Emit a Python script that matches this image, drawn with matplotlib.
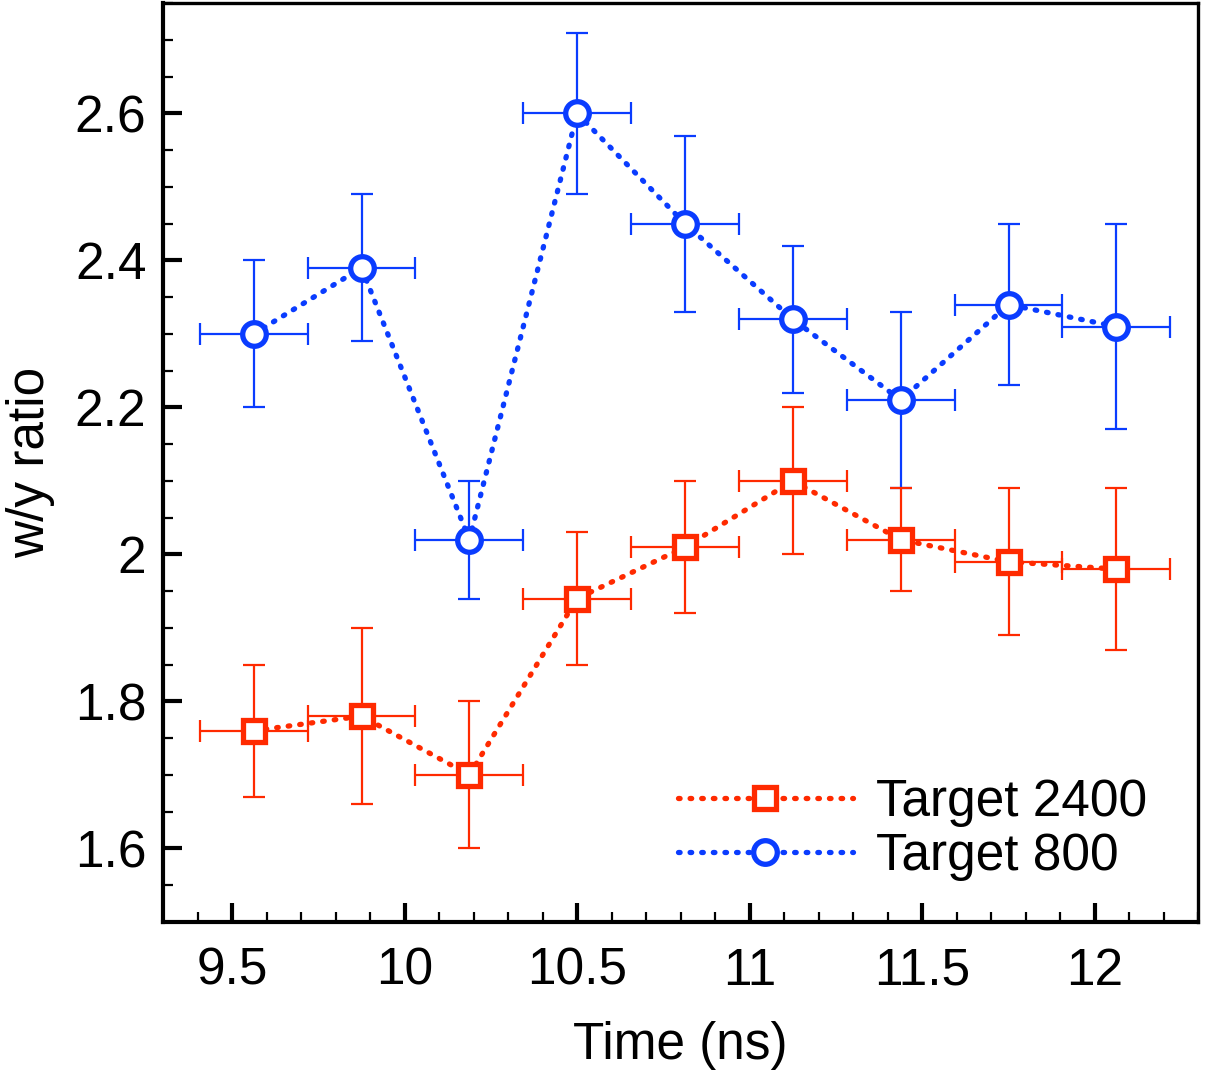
import matplotlib
matplotlib.use("Agg")
import matplotlib.pyplot as plt
from matplotlib.ticker import MultipleLocator

plt.rcParams["font.family"] = ["Liberation Sans", "DejaVu Sans"]

# time bins (ns) and half bin width
time_ns = [9.5625, 9.875, 10.1875, 10.5, 10.8125, 11.125, 11.4375, 11.75, 12.0625]
time_halfwidth = 0.15625

ratio_2400 = [1.76, 1.78, 1.70, 1.94, 2.01, 2.10, 2.02, 1.99, 1.98]
err_2400 = [0.09, 0.12, 0.10, 0.09, 0.09, 0.10, 0.07, 0.10, 0.11]

ratio_800 = [2.30, 2.39, 2.02, 2.60, 2.45, 2.32, 2.21, 2.34, 2.31]
err_800 = [0.10, 0.10, 0.08, 0.11, 0.12, 0.10, 0.12, 0.11, 0.14]

RED = "#ff2a00"
BLUE = "#0a3cff"

fig = plt.figure(figsize=(12.08, 10.82), dpi=100)
ax = fig.add_axes([0.135, 0.148, 0.857, 0.849])

dot_style = (0, (0.3, 1.9))

series = [
    (ratio_800, err_800, BLUE, "o", 17, "Target 800"),
    (ratio_2400, err_2400, RED, "s", 16, "Target 2400"),
]
handles = {}
for vals, errs, col, mk, ms, lab in series:
    ax.errorbar(time_ns, vals, xerr=time_halfwidth, yerr=errs, fmt="none",
                ecolor=col, elinewidth=1.6, capsize=8, capthick=1.6, zorder=2)
    line, = ax.plot(time_ns, vals, color=col, lw=3.8, linestyle=dot_style,
                    dash_capstyle="round", marker=mk, ms=ms, mfc="white",
                    mec=col, mew=3.8, zorder=3, label=lab)
    handles[lab] = line

ax.set_xlim(9.3, 12.3)
ax.set_ylim(1.5, 2.75)
ax.xaxis.set_minor_locator(MultipleLocator(0.1))
ax.yaxis.set_minor_locator(MultipleLocator(0.05))
ax.set_xticks([9.5, 10, 10.5, 11, 11.5, 12])
ax.set_xticklabels(["9.5", "10", "10.5", "11", "11.5", "12"])
ax.set_yticks([1.6, 1.8, 2.0, 2.2, 2.4, 2.6])
ax.set_yticklabels(["1.6", "1.8", "2", "2.2", "2.4", "2.6"])

ax.tick_params(which="both", direction="in", top=False, right=False,
               labelsize=37, color="black")
ax.tick_params(which="major", length=14, width=3)
ax.tick_params(axis="x", which="major", pad=18)
ax.tick_params(axis="y", which="major", pad=12)
ax.tick_params(which="minor", length=7, width=1.6)

for side, sp in ax.spines.items():
    sp.set_linewidth(3.0 if side in ("left", "bottom") else 2.4)

ax.set_xlabel("Time (ns)", fontsize=37, labelpad=18)
ax.set_ylabel("w/y ratio", fontsize=37, labelpad=14)

ax.legend([handles["Target 2400"], handles["Target 800"]],
          ["Target 2400", "Target 800"], loc="lower right",
          bbox_to_anchor=(0.985, 0.005), frameon=False, fontsize=37,
          handlelength=3.4, handletextpad=0.45, labelspacing=0.1,
          borderpad=0.2)

fig.savefig("out.png", dpi=100)
